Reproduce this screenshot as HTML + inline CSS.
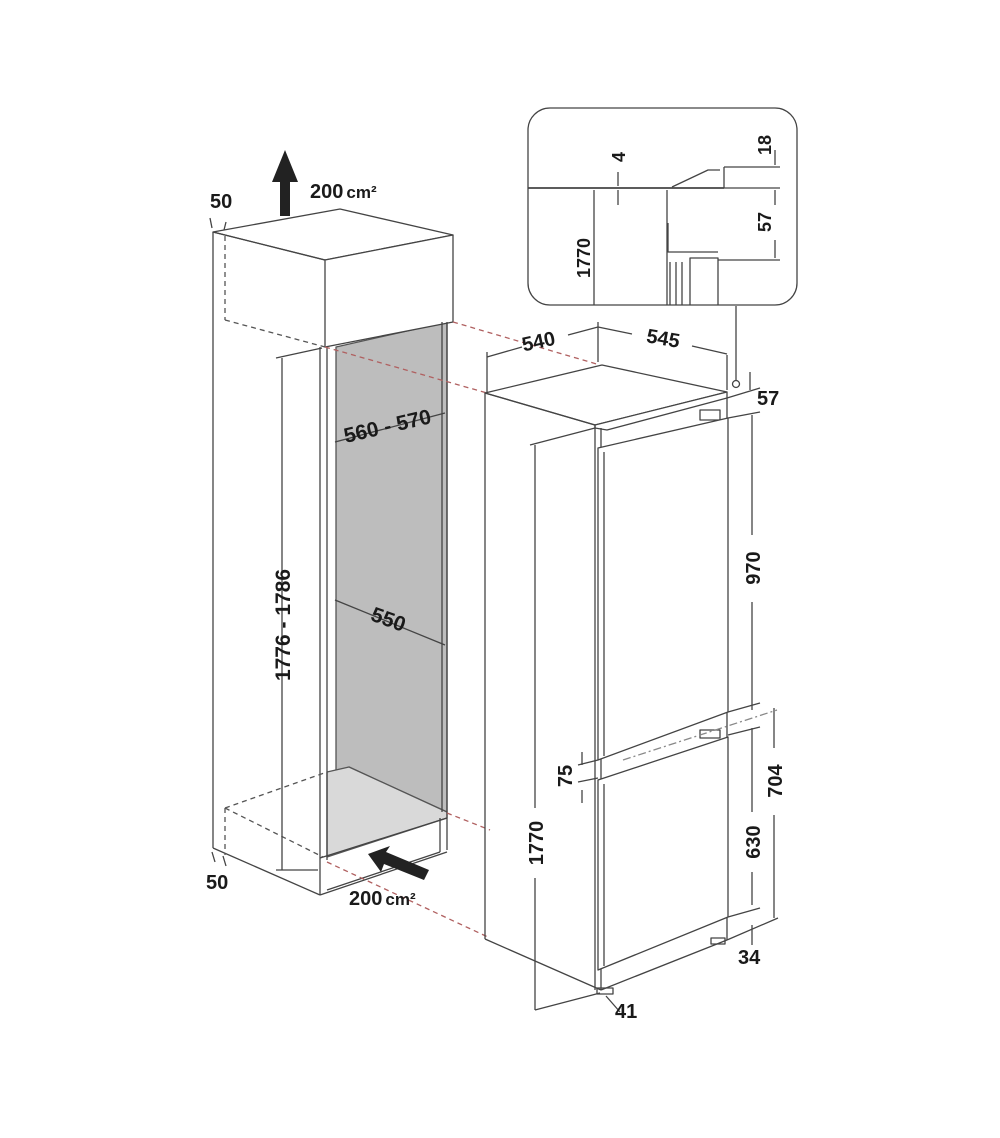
<!DOCTYPE html>
<html><head><meta charset="utf-8"><style>
html,body{margin:0;padding:0;background:#fff}
svg{display:block}
text{font-family:"Liberation Sans",sans-serif;font-weight:bold;fill:#1a1a1a}
</style></head><body>
<svg width="1000" height="1138" viewBox="0 0 1000 1138" xmlns="http://www.w3.org/2000/svg">
<g fill="none" stroke="#444" stroke-width="1.3" stroke-linejoin="round">
<polygon points="336,347 447,322 447,812 349,767 336,772" fill="#bdbdbd" stroke="#555"/>
<polygon points="327,772 349,767 447,812 447,818 327,857" fill="#d9d9d9" stroke="#555"/>
<polygon points="213,232 340,209 453,235 325,260" fill="#fff"/>
<polygon points="325,260 453,235 453,322 325,347" fill="#fff"/>
<line x1="213" y1="232" x2="213" y2="848"/>
<line x1="213" y1="232" x2="325" y2="260"/>
<line x1="320" y1="347" x2="320" y2="895"/>
<line x1="327" y1="347" x2="327" y2="860"/>
<line x1="447" y1="322" x2="447" y2="850"/>
<line x1="442" y1="322" x2="442" y2="812"/>
<line x1="320" y1="858" x2="447" y2="818"/>
<line x1="320" y1="895" x2="447" y2="852"/>
<line x1="327" y1="890" x2="440" y2="852"/>
<line x1="440" y1="818" x2="440" y2="852"/>
<line x1="213" y1="848" x2="320" y2="895"/>
<g stroke-dasharray="5,4" stroke="#555">
<line x1="225" y1="236" x2="225" y2="320"/>
<line x1="225" y1="320" x2="325" y2="347"/>
<line x1="225" y1="808" x2="225" y2="855"/>
<line x1="225" y1="808" x2="327" y2="772"/>
<line x1="225" y1="808" x2="323" y2="857"/>
</g>
<g stroke-dasharray="5,4" stroke="#b06060">
<line x1="453" y1="322" x2="600" y2="365"/>
<line x1="325" y1="347" x2="487" y2="393"/>
<line x1="447" y1="813" x2="490" y2="830"/>
<line x1="327" y1="862" x2="490" y2="938"/>
</g>
<line x1="282" y1="358" x2="282" y2="870"/>
<line x1="276" y1="358" x2="322" y2="348"/>
<line x1="276" y1="870" x2="318" y2="870"/>
<line x1="335" y1="442" x2="445" y2="413"/>
<line x1="335" y1="600" x2="445" y2="645"/>
<line x1="210" y1="218" x2="212" y2="228"/><line x1="226" y1="222" x2="224" y2="230"/>
<line x1="212" y1="852" x2="215" y2="862"/><line x1="223" y1="856" x2="226" y2="866"/>
<polygon points="485,393 602,365 727,392 595,425" fill="#fff"/>
<polygon points="595,425 727,392 727,398 607,430 595,428" fill="#fff"/>
<line x1="485" y1="393" x2="485" y2="939"/>
<line x1="485" y1="393" x2="595" y2="425"/>
<line x1="595" y1="425" x2="595" y2="990"/>
<line x1="601" y1="428" x2="601" y2="990"/>
<line x1="485" y1="939" x2="601" y2="990"/>
<line x1="601" y1="990" x2="727" y2="940"/>
<line x1="727" y1="398" x2="727" y2="940"/>
<rect x="700" y="410" width="20" height="10"/>
<polygon points="598,448 728,418 728,712 598,760" fill="#fff"/>
<line x1="604" y1="452" x2="604" y2="756"/>
<polygon points="598,780 728,737 728,917 598,970" fill="#fff"/>
<line x1="604" y1="784" x2="604" y2="966"/>
<rect x="700" y="730" width="20" height="8"/>
<rect x="711" y="938" width="14" height="6"/>
<rect x="597" y="988" width="16" height="6"/>
<line x1="487" y1="393" x2="487" y2="352"/>
<line x1="598" y1="362" x2="598" y2="322"/>
<line x1="727" y1="390" x2="727" y2="355"/>
<line x1="487" y1="357" x2="522" y2="347"/><line x1="568" y1="335" x2="598" y2="327"/>
<line x1="598" y1="327" x2="632" y2="334"/><line x1="692" y1="346" x2="727" y2="354"/>
<circle cx="736" cy="384" r="3.5" fill="#fff"/>
<line x1="736" y1="380" x2="736" y2="306"/>
<line x1="727" y1="398" x2="760" y2="388"/>
<line x1="728" y1="418" x2="760" y2="412"/>
<line x1="750" y1="372" x2="750" y2="390"/>
<line x1="752" y1="415" x2="752" y2="535"/><line x1="752" y1="602" x2="752" y2="710"/>
<line x1="728" y1="712" x2="760" y2="703"/>
<line x1="728" y1="735" x2="760" y2="727"/>
<line x1="752" y1="728" x2="752" y2="812"/><line x1="752" y1="872" x2="752" y2="905"/>
<line x1="774" y1="708" x2="774" y2="748"/><line x1="774" y1="815" x2="774" y2="918"/>
<line x1="728" y1="917" x2="760" y2="908"/>
<line x1="727" y1="940" x2="778" y2="918"/>
<line x1="752" y1="925" x2="752" y2="945"/>
<line x1="535" y1="445" x2="535" y2="808"/><line x1="535" y1="878" x2="535" y2="1010"/>
<line x1="530" y1="445" x2="595" y2="428"/>
<line x1="535" y1="1010" x2="600" y2="993"/>
<line x1="606" y1="996" x2="620" y2="1012"/>
<line x1="582" y1="752" x2="582" y2="765"/><line x1="582" y1="790" x2="582" y2="803"/>
<line x1="578" y1="765" x2="598" y2="760"/><line x1="578" y1="782" x2="598" y2="778"/>
<line x1="623" y1="760" x2="777" y2="710" stroke-dasharray="8,3,2,3" stroke="#888"/>
<rect x="528" y="108" width="269" height="197" rx="22" fill="#fff"/>
<line x1="528" y1="188" x2="724" y2="188" stroke-width="1.8"/>
<polyline points="672,187 708,170 720,170"/>
<polyline points="724,167 724,188"/>
<line x1="724" y1="167" x2="780" y2="167"/>
<line x1="724" y1="188" x2="780" y2="188"/>
<line x1="775" y1="150" x2="775" y2="165"/>
<line x1="775" y1="190" x2="775" y2="205"/><line x1="775" y1="240" x2="775" y2="258"/>
<line x1="718" y1="260" x2="780" y2="260"/>
<line x1="618" y1="172" x2="618" y2="186"/><line x1="618" y1="190" x2="618" y2="205"/>
<line x1="594" y1="190" x2="594" y2="305"/>
<line x1="667" y1="190" x2="667" y2="305"/>
<polyline points="668,223 668,252 718,252"/>
<line x1="670" y1="262" x2="670" y2="305"/><line x1="676" y1="262" x2="676" y2="305"/><line x1="682" y1="262" x2="682" y2="305"/>
<polyline points="690,305 690,258 718,258 718,305"/>
</g>
<polygon points="280,216 290,216 290,182 298,182 285,150 272,182 280,182" fill="#222"/>
<polygon points="424,880 429,870 386,852 390,846 368,854 381,872 384,864" fill="#222"/>
<text x="310" y="198" font-size="20">200<tspan font-size="17" dx="3">cm²</tspan></text>
<text x="210" y="208" font-size="20">50</text>
<text x="206" y="889" font-size="20">50</text>
<text x="349" y="905" font-size="20">200<tspan font-size="17" dx="3">cm²</tspan></text>
<g text-anchor="middle">
<text transform="translate(290,625) rotate(-90)" font-size="21">1776 - 1786</text>
<text transform="translate(389,433) rotate(-13)" font-size="21">560 - 570</text>
<text transform="translate(386,626) rotate(20)" font-size="21">550</text>
<text transform="translate(540,348) rotate(-12)" font-size="20">540</text>
<text transform="translate(662,345) rotate(10)" font-size="20">545</text>
<text transform="translate(760,568) rotate(-90)" font-size="20">970</text>
<text transform="translate(760,842) rotate(-90)" font-size="20">630</text>
<text transform="translate(782,781) rotate(-90)" font-size="20">704</text>
<text transform="translate(543,843) rotate(-90)" font-size="20">1770</text>
<text transform="translate(572,776) rotate(-90)" font-size="20">75</text>
<text transform="translate(771,145) rotate(-90)" font-size="18">18</text>
<text transform="translate(625,157) rotate(-90)" font-size="18">4</text>
<text transform="translate(771,222) rotate(-90)" font-size="18">57</text>
<text transform="translate(590,258) rotate(-90)" font-size="18">1770</text>
</g>
<text x="757" y="405" font-size="20">57</text>
<text x="738" y="964" font-size="20">34</text>
<text x="615" y="1018" font-size="20">41</text>
</svg>
</body></html>
